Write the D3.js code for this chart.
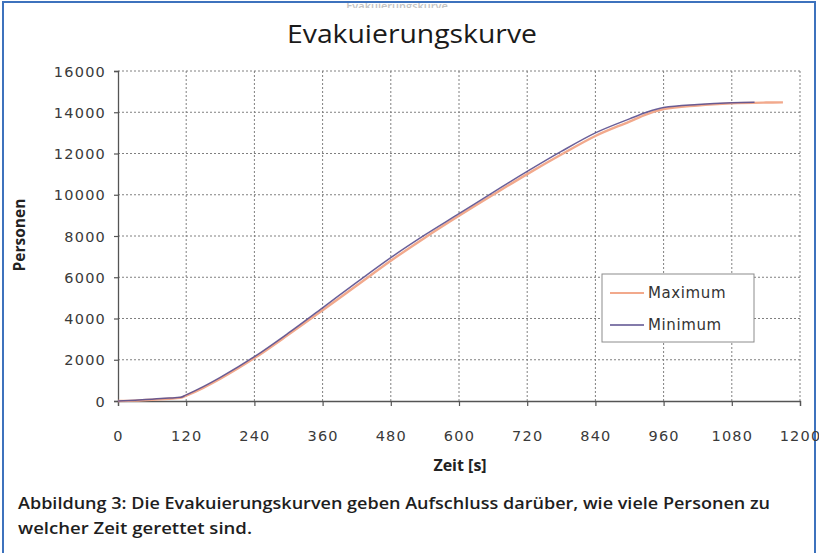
<!DOCTYPE html>
<html>
<head>
<meta charset="utf-8">
<script src="https://cdn.jsdelivr.net/npm/d3@7"></script>
<style>
  html, body { margin: 0; padding: 0; background: #fff; }
  svg { display: block; }
</style>
</head>
<body>
<svg id="chart" width="819" height="553"></svg>
<script>
// ---- data ----
const title = "Evakuierungskurve";
const xLabel = "Zeit [s]";
const yLabel = "Personen";
const xTicks = [0, 120, 240, 360, 480, 600, 720, 840, 960, 1080, 1200];
const yTicks = [0, 2000, 4000, 6000, 8000, 10000, 12000, 14000, 16000];
const seriesNames = ["Maximum", "Minimum"];

const maxTime   = [0, 30, 60, 90, 110, 120, 150, 180, 240, 300, 360, 420, 480, 540, 600, 660, 720, 780, 840, 900, 930, 960, 1020, 1080, 1140, 1170];
const maxValues = [0, 20, 60, 110, 150, 260, 640, 1080, 2080, 3220, 4400, 5600, 6800, 7920, 8980, 10000, 11000, 11950, 12850, 13550, 13900, 14150, 14330, 14430, 14470, 14480];

const minTime   = [0, 30, 60, 90, 110, 120, 150, 180, 240, 300, 360, 420, 480, 540, 600, 660, 720, 780, 840, 900, 930, 960, 1020, 1080, 1120];
const minValues = [0, 40, 90, 140, 180, 300, 700, 1150, 2150, 3300, 4520, 5750, 6950, 8050, 9080, 10120, 11130, 12100, 13000, 13680, 14000, 14230, 14380, 14460, 14480];

const caption = [
  "Abbildung 3: Die Evakuierungskurven geben Aufschluss darüber, wie viele Personen zu",
  "welcher Zeit gerettet sind."
];

// ---- drawing ----
const svg = d3.select("#chart");
const W = 819, H = 553;

svg.append("rect").attr("x", 0).attr("y", 0).attr("width", W).attr("height", H).attr("fill", "#fff");

// ghost text at the very top (only its upper part shows)
svg.append("clipPath").attr("id", "ghostclip")
  .append("rect").attr("x", 0).attr("y", 3).attr("width", W).attr("height", 5);
svg.append("text")
  .attr("x", 397).attr("y", 10)
  .attr("text-anchor", "middle")
  .attr("clip-path", "url(#ghostclip)")
  .attr("font-family", "Open Sans, sans-serif")
  .attr("font-size", 11).attr("font-weight", 600)
  .attr("fill", "#888").attr("opacity", 0.5)
  .text(title);

// frame
svg.append("rect")
  .attr("x", 3).attr("y", 2).attr("width", 812).attr("height", 600)
  .attr("fill", "none").attr("stroke", "#3d72bd").attr("stroke-width", 2);

const x = d3.scaleLinear().domain([0, 1200]).range([118, 800]);
const y = d3.scaleLinear().domain([0, 16000]).range([401, 71]);

// grid
const grid = svg.append("g");
grid.selectAll("line.gx").data(xTicks.slice(1)).enter().append("line")
  .attr("x1", d => x(d)).attr("x2", d => x(d))
  .attr("y1", y(16000)).attr("y2", y(0))
  .attr("stroke", "#808080").attr("stroke-width", 1)
  .attr("stroke-dasharray", "2,2");
grid.selectAll("line.gy").data(yTicks.slice(1)).enter().append("line")
  .attr("x1", x(0)).attr("x2", x(1200))
  .attr("y1", d => y(d)).attr("y2", d => y(d))
  .attr("stroke", "#808080").attr("stroke-width", 1)
  .attr("stroke-dasharray", "2,2");

// axes
const fontTick = "DejaVu Sans, Verdana, sans-serif";
const yAxis = d3.axisLeft(y).tickValues(yTicks).tickSize(4).tickPadding(8).tickFormat(d3.format("d"));
const gy = svg.append("g").attr("transform", `translate(${x(0)},0)`).call(yAxis);
const xAxis = d3.axisBottom(x).tickValues(xTicks).tickSize(5).tickPadding(35).tickFormat(d3.format("d"));
const gx = svg.append("g").attr("transform", `translate(0,${y(0)})`).call(xAxis);
[gx, gy].forEach(g => {
  g.select(".domain").attr("stroke", "#555").attr("stroke-width", 1.3);
  g.selectAll(".tick line").attr("stroke", "#555").attr("stroke-width", 1.2);
  g.selectAll(".tick text")
    .attr("font-family", fontTick).attr("font-size", 14.5)
    .attr("letter-spacing", "1.2px")
    .attr("fill", "#3a3a3a");
});
gx.selectAll(".tick text").attr("dy", "0");
gy.selectAll(".tick text").attr("dy", "0.36em");

// lines
const line = d3.line().x(d => x(d[0])).y(d => y(d[1])).curve(d3.curveMonotoneX);
const maxData = maxTime.map((t, i) => [t, maxValues[i]]);
const minData = minTime.map((t, i) => [t, minValues[i]]);
const colors = { Maximum: "#f2a98c", Minimum: "#5a4f8e" };

svg.append("path").datum(maxData).attr("d", line)
  .attr("fill", "none").attr("stroke", colors.Maximum).attr("stroke-width", 2.4);
svg.append("path").datum(minData).attr("d", line)
  .attr("fill", "none").attr("stroke", colors.Minimum).attr("stroke-width", 1.5)
  .attr("opacity", 0.9);

// legend
const lg = svg.append("g").attr("transform", "translate(602,274)");
lg.append("rect").attr("x", 0).attr("y", 0).attr("width", 152).attr("height", 68)
  .attr("fill", "#fff").attr("stroke", "#8c8c8c").attr("stroke-width", 1);
seriesNames.forEach((name, i) => {
  const yy = 19 + i * 32;
  lg.append("line").attr("x1", 8).attr("x2", 42).attr("y1", yy).attr("y2", yy)
    .attr("stroke", colors[name]).attr("stroke-width", name === "Maximum" ? 1.8 : 1.5);
  lg.append("text").attr("x", 46).attr("y", yy).attr("dy", "0.36em")
    .attr("font-family", fontTick).attr("font-size", 15).attr("letter-spacing", "0.6px")
    .attr("fill", "#333").text(name);
});

// title
svg.append("text").attr("x", 412).attr("y", 43).attr("text-anchor", "middle")
  .attr("font-family", "Open Sans, sans-serif").attr("font-size", 25)
  .attr("fill", "#1a1a1a")
  .attr("textLength", 250).attr("lengthAdjust", "spacingAndGlyphs")
  .text(title);

// axis titles
svg.append("text").attr("x", 460).attr("y", 471).attr("text-anchor", "middle")
  .attr("font-family", "Open Sans, sans-serif").attr("font-size", 16).attr("font-weight", 700)
  .attr("fill", "#222").text(xLabel);
svg.append("text")
  .attr("transform", "translate(25,235) rotate(-90)")
  .attr("text-anchor", "middle")
  .attr("font-family", "Open Sans, sans-serif").attr("font-size", 15.5).attr("font-weight", 700)
  .attr("fill", "#222").text(yLabel);

// caption
svg.append("text").attr("x", 18).attr("y", 509)
  .attr("font-family", "Open Sans, sans-serif").attr("font-size", 16).attr("font-weight", 600)
  .attr("fill", "#1e1e1e")
  .attr("textLength", 752).attr("lengthAdjust", "spacingAndGlyphs")
  .text(caption[0]);
svg.append("text").attr("x", 18).attr("y", 534)
  .attr("font-family", "Open Sans, sans-serif").attr("font-size", 16).attr("font-weight", 600)
  .attr("fill", "#1e1e1e")
  .attr("textLength", 234).attr("lengthAdjust", "spacingAndGlyphs")
  .text(caption[1]);
</script>
</body>
</html>
